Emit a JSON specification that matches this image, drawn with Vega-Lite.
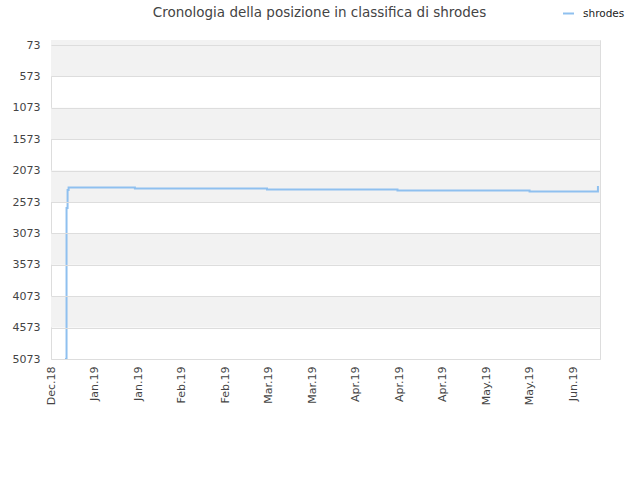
{
  "$schema": "https://vega.github.io/schema/vega-lite/v6.json",
  "width": 549,
  "height": 319,
  "autosize": {"type": "none"},
  "padding": {"left": 51, "top": 40, "right": 40, "bottom": 121},
  "background": "white",
  "config": {
    "font": "DejaVu Sans",
    "view": {"stroke": "#dddddd", "strokeWidth": 1},
    "axis": {"labelOverlap": false}
  },
  "title": {
    "text": "Cronologia della posizione in classifica di shrodes",
    "fontSize": 13.5,
    "fontWeight": "normal",
    "color": "#444444",
    "anchor": "middle",
    "dx": -6,
    "offset": 0,
    "dy": 12
  },
  "datasets": {
    "bands": [
      {"from": -7, "to": 573},
      {"from": 1073, "to": 1573},
      {"from": 2073, "to": 2573},
      {"from": 3073, "to": 3573},
      {"from": 4073, "to": 4573}
    ],
    "rank": [
      {"date": "2018-12-29T12:00:00", "pos": 5073, "player": "shrodes"},
      {"date": "2018-12-30T00:00:00", "pos": 2668, "player": "shrodes"},
      {"date": "2018-12-30T08:00:00", "pos": 2380, "player": "shrodes"},
      {"date": "2018-12-30T16:00:00", "pos": 2342, "player": "shrodes"},
      {"date": "2019-01-21T00:00:00", "pos": 2358, "player": "shrodes"},
      {"date": "2019-03-04T12:00:00", "pos": 2374, "player": "shrodes"},
      {"date": "2019-04-15T12:00:00", "pos": 2390, "player": "shrodes"},
      {"date": "2019-05-28T00:00:00", "pos": 2405, "player": "shrodes"},
      {"date": "2019-06-19T00:00:00", "pos": 2318, "player": "shrodes"}
    ]
  },
  "layer": [
    {
      "data": {"name": "bands"},
      "mark": {"type": "rect", "color": "#f2f2f2"},
      "encoding": {
        "y": {
          "field": "from",
          "type": "quantitative",
          "scale": {"domain": [-7, 5073], "reverse": true, "nice": false, "zero": false},
          "axis": {
            "title": null,
            "values": [73, 573, 1073, 1573, 2073, 2573, 3073, 3573, 4073, 4573, 5073],
            "format": "d",
            "grid": true,
            "gridColor": "#dddddd",
            "zindex": 1,
            "ticks": false,
            "domain": false,
            "labelOverlap": false,
            "labelFontSize": 11,
            "labelColor": "#444444",
            "labelPadding": 11
          }
        },
        "y2": {"field": "to"}
      }
    },
    {
      "data": {"name": "rank"},
      "mark": {"type": "line", "interpolate": "step-after", "strokeWidth": 2, "clip": true},
      "encoding": {
        "x": {
          "field": "date",
          "type": "temporal",
          "scale": {"domain": ["2018-12-25T00:00:00", "2019-06-19T16:00:00"], "nice": false},
          "axis": {
            "title": null,
            "grid": false,
            "ticks": false,
            "domain": false,
            "format": "%b.%y",
            "labelAngle": 270,
            "labelOverlap": false,
            "labelFontSize": 11,
            "labelColor": "#444444",
            "labelPadding": 7,
            "values": [
              "2018-12-25T00:00:00", "2019-01-08T00:00:00", "2019-01-22T00:00:00",
              "2019-02-05T00:00:00", "2019-02-19T00:00:00", "2019-03-05T00:00:00",
              "2019-03-19T00:00:00", "2019-04-02T00:00:00", "2019-04-16T00:00:00",
              "2019-04-30T00:00:00", "2019-05-14T00:00:00", "2019-05-28T00:00:00",
              "2019-06-11T00:00:00"
            ]
          }
        },
        "y": {
          "field": "pos",
          "type": "quantitative",
          "scale": {"domain": [-7, 5073], "reverse": true, "nice": false, "zero": false},
          "axis": {
            "title": null,
            "values": [73, 573, 1073, 1573, 2073, 2573, 3073, 3573, 4073, 4573, 5073],
            "format": "d",
            "grid": true,
            "gridColor": "#dddddd",
            "zindex": 1,
            "ticks": false,
            "domain": false,
            "labelOverlap": false,
            "labelFontSize": 11,
            "labelColor": "#444444",
            "labelPadding": 11
          }
        },
        "color": {
          "field": "player",
          "type": "nominal",
          "scale": {"range": ["#8fc0ef"]},
          "legend": {
            "title": null,
            "orient": "none",
            "legendX": 511,
            "legendY": -33,
            "symbolType": "stroke",
            "symbolSize": 121,
            "symbolStrokeWidth": 2,
            "labelFontSize": 10.5,
            "labelColor": "#222222",
            "labelOffset": 8,
            "padding": 0
          }
        }
      }
    }
  ]
}
